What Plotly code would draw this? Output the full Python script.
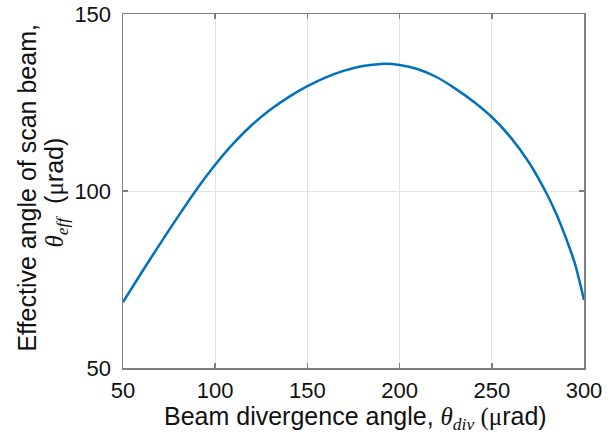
import plotly.graph_objects as go

# Data
theta_div = [50, 60, 70, 80, 90, 100, 110, 120, 130, 140, 150, 160, 170, 180,
             190, 200, 210, 220, 230, 240, 250, 260, 270, 280, 285, 290, 295, 300]
theta_eff = [68.6, 76.9, 85.0, 92.9, 100.5, 107.4, 113.5, 118.7, 123.0, 126.6,
             129.6, 132.1, 134.0, 135.3, 135.9, 135.6, 134.4, 132.2, 129.0,
             125.3, 120.9, 115.3, 108.2, 99.0, 93.5, 87.0, 79.6, 69.2]

x_ticks = [50, 100, 150, 200, 250, 300]
y_ticks = [50, 100, 150]

SANS = "Liberation Sans, Arial, sans-serif"
SERIF = "Liberation Serif, Times New Roman, serif"
AXC = "#7f7f7f"
TXT = "#111111"

fig = go.Figure()
fig.add_trace(go.Scatter(x=theta_div, y=theta_eff, mode="lines",
                         line=dict(color="#0072BD", width=2.5, shape="spline",
                                   smoothing=0.8),
                         showlegend=False))

axis_common = dict(showline=True, linecolor=AXC, linewidth=1.5, mirror="ticks",
                   ticks="inside", ticklen=5, tickcolor=AXC, tickwidth=1.5,
                   showgrid=True, gridcolor="#e3e3e3", gridwidth=1,
                   zeroline=False, ticklabeloverflow="allow", automargin=False,
                   tickfont=dict(family=SANS, size=22, color=TXT))

fig.update_xaxes(range=[50, 300], tickvals=x_ticks, ticktext=[str(v) for v in x_ticks],
                 ticklabelstandoff=2, **axis_common)
fig.update_yaxes(range=[50, 150], tickvals=y_ticks, ticktext=[str(v) for v in y_ticks],
                 ticklabelstandoff=6, **axis_common)

fig.update_layout(
    width=616, height=441,
    margin=dict(l=123, r=32, t=14, b=73, autoexpand=False),
    paper_bgcolor="white", plot_bgcolor="white",
    font=dict(family=SANS, size=22, color=TXT),
)

xtitle = ("Beam divergence angle, "
          f"<span style=\"font-family:{SERIF}\"><i>θ<sub>div</sub></i> (μ</span>rad)")
ytitle1 = "Effective angle of scan beam,"
ytitle2 = (f"<span style=\"font-family:{SERIF}\"><i>θ<sub>eff</sub></i></span>  "
           f"(<span style=\"font-family:{SERIF}\">μ</span>rad)")

fig.add_annotation(text=xtitle, xref="paper", yref="paper", x=0.505, y=-0.141,
                   xanchor="center", yanchor="middle", showarrow=False,
                   font=dict(family=SANS, size=25, color=TXT))
fig.add_annotation(text=ytitle1, xref="paper", yref="paper", x=-0.208, y=0.51,
                   xanchor="center", yanchor="middle", textangle=-90, showarrow=False,
                   font=dict(family=SANS, size=25, color=TXT))
fig.add_annotation(text=ytitle2, xref="paper", yref="paper", x=-0.145, y=0.496,
                   xanchor="center", yanchor="middle", textangle=-90, showarrow=False,
                   font=dict(family=SANS, size=25, color=TXT))

# remove the browser's default 8px body margin so the figure fills the window
fig.write_html("out.html",
               config={"displayModeBar": False, "staticPlot": True},
               post_script="document.body.style.margin='0';document.body.style.overflow='hidden';")
